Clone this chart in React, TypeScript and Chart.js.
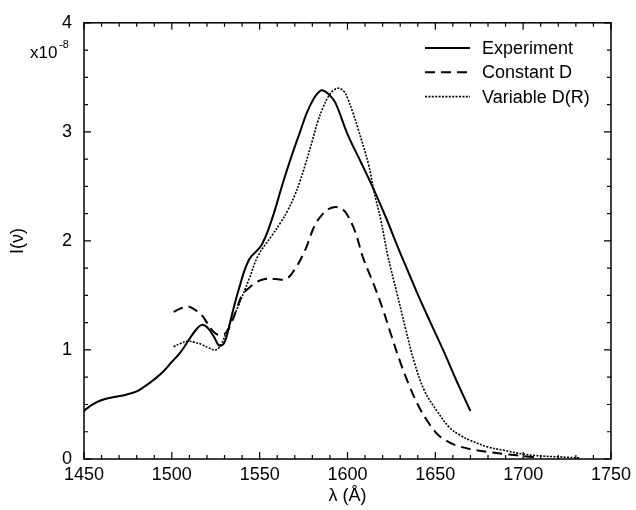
import React, { useEffect, useRef } from "react";
import { Chart, registerables } from "chart.js";

Chart.register(...registerables);

const expX = [1450, 1453, 1457, 1462, 1468, 1474, 1480, 1485, 1490, 1495, 1500, 1505, 1510, 1514, 1517, 1520, 1524, 1527, 1530, 1534, 1538, 1544, 1551, 1557, 1563, 1568, 1573, 1577, 1581, 1584, 1586, 1589, 1593, 1600, 1608, 1615, 1622, 1629, 1635, 1640, 1647, 1655, 1662, 1670];
const expY = [0.44, 0.48, 0.52, 0.55, 0.57, 0.59, 0.62, 0.67, 0.73, 0.8, 0.89, 0.98, 1.1, 1.19, 1.23, 1.21, 1.12, 1.04, 1.07, 1.31, 1.55, 1.83, 1.96, 2.2, 2.52, 2.77, 3.0, 3.18, 3.31, 3.37, 3.38, 3.35, 3.27, 2.98, 2.71, 2.47, 2.21, 1.93, 1.7, 1.51, 1.26, 0.98, 0.72, 0.44];

const constX = [1501, 1505, 1509, 1513, 1517, 1520, 1523, 1526, 1529, 1531, 1534, 1537, 1540, 1544, 1548, 1553, 1559, 1565, 1570, 1576, 1581, 1585, 1589, 1593, 1596, 1599, 1604, 1609, 1615, 1620, 1625, 1630, 1635, 1640, 1645, 1651, 1656, 1661, 1670, 1680, 1690, 1700, 1710];
const constY = [1.35, 1.38, 1.4, 1.37, 1.32, 1.25, 1.18, 1.14, 1.14, 1.16, 1.25, 1.38, 1.5, 1.57, 1.62, 1.65, 1.65, 1.65, 1.74, 1.92, 2.13, 2.23, 2.29, 2.31, 2.3, 2.26, 2.1, 1.84, 1.6, 1.38, 1.13, 0.89, 0.68, 0.5, 0.36, 0.23, 0.17, 0.13, 0.09, 0.065, 0.045, 0.027, 0.012];

const varX = [1501, 1505, 1509, 1513, 1517, 1521, 1525, 1528, 1532, 1535, 1538, 1544, 1549, 1557, 1562, 1566, 1570, 1573, 1576, 1580, 1583, 1586, 1589, 1592, 1595, 1598, 1600, 1603, 1606, 1612, 1615, 1619, 1623, 1628, 1633, 1638, 1644, 1651, 1658, 1664, 1670, 1680, 1689, 1700, 1711, 1720, 1732];
const varY = [1.03, 1.06, 1.08, 1.07, 1.05, 1.02, 1.0, 1.05, 1.2, 1.3, 1.41, 1.65, 1.86, 2.05, 2.17, 2.28, 2.42, 2.55, 2.7, 2.92, 3.09, 3.22, 3.32, 3.38, 3.4, 3.37, 3.31, 3.18, 3.03, 2.7, 2.46, 2.19, 1.86, 1.53, 1.2, 0.89, 0.62, 0.44, 0.29, 0.22, 0.17, 0.11, 0.08, 0.045, 0.027, 0.02, 0.01];

const seriesLabels = ["Experiment", "Constant D", "Variable D(R)"];
const xMin = 1450, xMax = 1750, yMin = 0, yMax = 4;

const FONT = "'Liberation Sans', Arial, Helvetica, sans-serif";
const FS = 18;

const pts = (xs: number[], ys: number[]) => xs.map((x, i) => ({ x, y: ys[i] }));

const framePlugin = {
  id: "frameTicks",
  afterDraw(chart: any) {
    const ctx = chart.ctx;
    const { left, right, top, bottom } = chart.chartArea;
    const xs = chart.scales.x;
    const ys = chart.scales.y;
    ctx.save();
    ctx.strokeStyle = "#000";
    ctx.lineWidth = 1.5;
    ctx.strokeRect(left, top, right - left, bottom - top);
    ctx.lineWidth = 1.2;
    ctx.beginPath();
    for (let v = xMin; v <= xMax; v += 10) {
      const px = xs.getPixelForValue(v);
      const len = v % 50 === 0 ? 7 : 4;
      ctx.moveTo(px, bottom);
      ctx.lineTo(px, bottom - len);
      ctx.moveTo(px, top);
      ctx.lineTo(px, top + len);
    }
    for (let i = 0; i <= 16; i++) {
      const v = i * 0.25;
      const py = ys.getPixelForValue(v);
      const len = i % 4 === 0 ? 7 : 4;
      ctx.moveTo(left, py);
      ctx.lineTo(left + len, py);
      ctx.moveTo(right, py);
      ctx.lineTo(right - len, py);
    }
    ctx.stroke();

    // exponent
    ctx.fillStyle = "#000";
    ctx.textBaseline = "alphabetic";
    ctx.textAlign = "left";
    ctx.font = `17px ${FONT}`;
    ctx.fillText("x10", 30, 58);
    ctx.font = `11px ${FONT}`;
    ctx.fillText("-8", 59, 48);

    // legend
    const ds = chart.data.datasets;
    ctx.font = `${FS}px ${FONT}`;
    ctx.textBaseline = "middle";
    ds.forEach((d: any, i: number) => {
      const y = 48 + i * 24.3;
      ctx.beginPath();
      ctx.lineWidth = d.borderWidth;
      ctx.setLineDash(d.borderDash || []);
      ctx.strokeStyle = d.borderColor;
      ctx.moveTo(425, y);
      ctx.lineTo(470, y);
      ctx.stroke();
      ctx.setLineDash([]);
      ctx.fillText(d.label, 482, y + 1);
    });
    ctx.restore();
  },
};

export default function App() {
  const ref = useRef<HTMLCanvasElement | null>(null);
  useEffect(() => {
    document.body.style.margin = "0";
    if (!ref.current) return;
    const chart = new Chart(ref.current, {
      type: "line",
      data: {
        datasets: [
          {
            label: seriesLabels[0],
            data: pts(expX, expY),
            borderColor: "#000",
            borderWidth: 2,
            pointRadius: 0,
            tension: 0.4,
            fill: false,
          },
          {
            label: seriesLabels[1],
            data: pts(constX, constY),
            borderColor: "#000",
            borderWidth: 2,
            borderDash: [10, 6],
            pointRadius: 0,
            tension: 0.4,
            fill: false,
          },
          {
            label: seriesLabels[2],
            data: pts(varX, varY),
            borderColor: "#000",
            borderWidth: 1.6,
            borderDash: [2, 1.4],
            pointRadius: 0,
            tension: 0.4,
            fill: false,
          },
        ],
      },
      options: {
        animation: false,
        responsive: true,
        maintainAspectRatio: false,
        layout: { padding: { top: 16, right: 21, left: 0, bottom: 0 } },
        plugins: { legend: { display: false }, tooltip: { enabled: false } },
        scales: {
          x: {
            type: "linear",
            min: xMin,
            max: xMax,
            grid: { display: false, drawTicks: false },
            border: { display: false },
            ticks: { stepSize: 50, padding: 5, color: "#000", font: { family: FONT, size: FS }, maxRotation: 0, callback: (v: any) => String(v) },
            title: { display: true, text: "λ (Å)", color: "#000", font: { family: FONT, size: FS }, padding: { top: 0, bottom: 3 } },
            afterFit: (s: any) => { s.height = 51; },
          },
          y: {
            type: "linear",
            min: yMin,
            max: yMax,
            grid: { display: false, drawTicks: false },
            border: { display: false },
            ticks: { stepSize: 1, padding: 12, color: "#000", font: { family: FONT, size: FS }, callback: (v: any) => String(v) },
            title: { display: true, text: "I(ν)", color: "#000", font: { family: FONT, size: FS }, padding: { top: 7, bottom: 0 } },
            afterFit: (s: any) => { s.width = 84; },
          },
        },
      },
      plugins: [framePlugin],
    });
    return () => chart.destroy();
  }, []);
  return (
    <div style={{ position: "absolute", left: 0, top: 0, width: 636, height: 510, background: "#fff" }}>
      <canvas ref={ref} />
    </div>
  );
}
